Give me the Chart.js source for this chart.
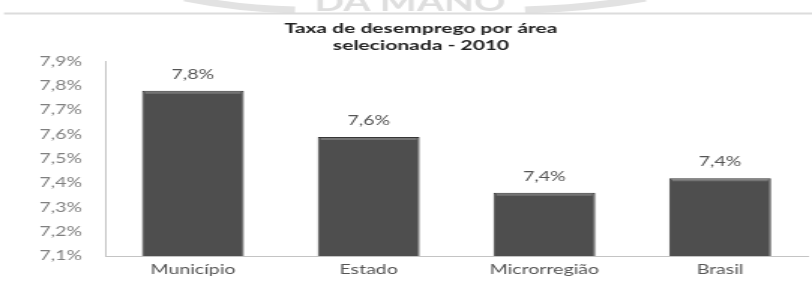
<!DOCTYPE html>
<html><head><meta charset="utf-8">
<script src="https://cdn.jsdelivr.net/npm/chart.js@4/dist/chart.umd.min.js"></script>
<style>
html,body{margin:0;padding:0;background:#fff;overflow:hidden}
</style>
</head><body>
<canvas id="c" width="541" height="283" style="display:block;width:812px;height:283px"></canvas>
<script>
// ---- data ----
const categories = ['Município', 'Estado', 'Microrregião', 'Brasil'];
const values = [7.78, 7.59, 7.36, 7.42];
const titleLines = ['Taxa de desemprego por área', 'selecionada - 2010'];
const yMin = 7.1;
const yMax = 7.9;
const yStep = 0.1;

// the reference picture is stretched horizontally; draw narrow, display wide
const CW = 541;
const SX = 812 / CW;
const fmt = v => v.toFixed(1).replace('.', ',') + '%';

const watermark = {
  id: 'watermark',
  beforeDraw(chart) {
    const ctx = chart.ctx;
    ctx.save();
    ctx.fillStyle = '#fff';
    ctx.fillRect(0, 0, chart.width, chart.height);
    ctx.strokeStyle = '#e2e2e2';
    ctx.lineWidth = 7;
    ctx.beginPath();
    ctx.moveTo(185 / SX, -2);
    ctx.quadraticCurveTo(240 / SX, 9, 295 / SX, 10);
    ctx.stroke();
    ctx.beginPath();
    ctx.moveTo(525 / SX, 10);
    ctx.quadraticCurveTo(590 / SX, 8, 645 / SX, -2);
    ctx.stroke();
    ctx.fillStyle = '#dedede';
    ctx.font = 'bold 26px Lato';
    ctx.textAlign = 'center';
    ctx.textBaseline = 'alphabetic';
    ctx.fillText('DA MANO', 410 / SX, 11);
    ctx.strokeStyle = '#dcdcdc';
    ctx.lineWidth = 2;
    ctx.beginPath();
    ctx.moveTo(4 / SX, 13.5);
    ctx.lineTo(chart.width, 13.5);
    ctx.stroke();
    ctx.restore();
  }
};

const barLabels = {
  id: 'barLabels',
  afterDatasetsDraw(chart) {
    const ctx = chart.ctx;
    const meta = chart.getDatasetMeta(0);
    ctx.save();
    meta.data.forEach((bar, i) => {
      const w = bar.width;
      ctx.strokeStyle = 'rgba(255,255,255,0.22)';
      ctx.lineWidth = 2;
      ctx.beginPath();
      ctx.moveTo(bar.x - w / 2 + 2, bar.y + 2);
      ctx.lineTo(bar.x + w / 2 - 2, bar.y + 2);
      ctx.stroke();
      ctx.fillStyle = '#555';
      ctx.font = '13px Lato';
      ctx.textAlign = 'center';
      ctx.textBaseline = 'middle';
      ctx.fillText(fmt(values[i]), bar.x, bar.y - 16);
    });
    ctx.restore();
  }
};

const canvas = document.getElementById('c');
new Chart(canvas, {
  type: 'bar',
  data: {
    labels: categories,
    datasets: [{
      data: values,
      backgroundColor: '#4e4e4e',
      borderColor: '#363636',
      borderWidth: 1,
      borderSkipped: false,
      barPercentage: 0.58,
      categoryPercentage: 1
    }]
  },
  options: {
    responsive: false,
    animation: false,
    devicePixelRatio: 1,
    layout: { padding: { left: 22.7, right: 2.7, top: 0, bottom: 0 } },
    plugins: {
      legend: { display: false },
      tooltip: { enabled: false },
      title: {
        display: true,
        text: titleLines,
        color: '#222',
        font: { family: 'Lato', size: 14, weight: 'bold', lineHeight: 1.2 },
        padding: { top: 20, bottom: 8 }
      }
    },
    scales: {
      x: {
        grid: { display: false, drawTicks: false },
        border: { display: true, color: '#c4c4c4', width: 1 },
        ticks: { color: '#555', font: { family: 'Lato', size: 13 }, padding: 6 },
        afterFit(scale) { scale.height = 27; }
      },
      y: {
        min: yMin,
        max: yMax,
        grid: { display: false, drawTicks: false },
        border: { display: true, color: '#c4c4c4', width: 1 },
        ticks: {
          stepSize: yStep,
          color: '#808080',
          font: { family: 'Lato', size: 13 },
          padding: 15.3,
          callback: v => fmt(v)
        },
        afterFit(scale) { scale.width = 47.3; }
      }
    }
  },
  plugins: [watermark, barLabels]
});
canvas.style.width = '812px';
canvas.style.height = '283px';
</script>
</body></html>
